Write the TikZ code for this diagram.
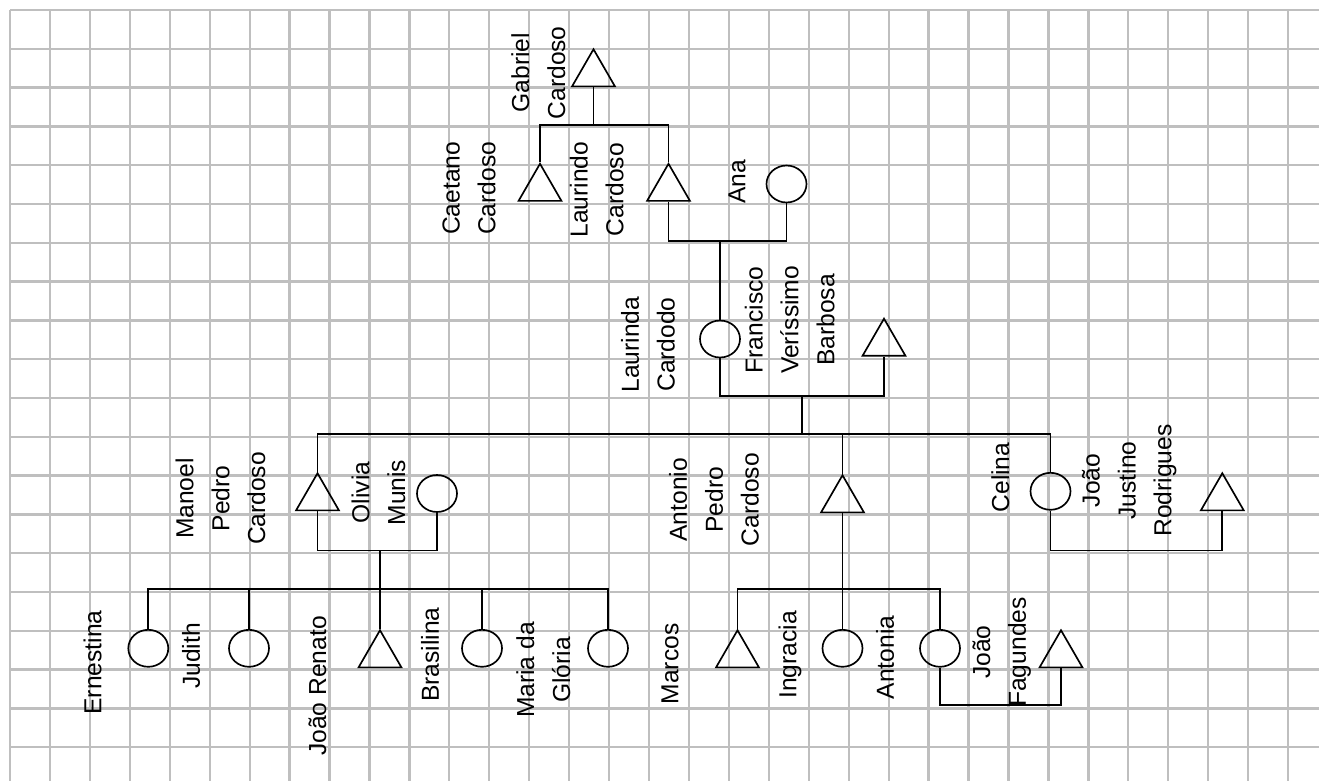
\documentclass[tikz,border=0pt]{standalone}
\usepackage{fontspec}
\setmainfont{Liberation Sans}
\usepackage{tikz}
\usetikzlibrary{positioning, shapes.geometric, calc}

\begin{document}
\begin{tikzpicture}[
    x=0.02cm, y=-0.02cm,
    gridline/.style={draw=gray!50, line width=1.3pt},
    kin/.style={draw=black, line width=0.95pt},
    male/.style={regular polygon, regular polygon sides=3, draw, line width=0.95pt, minimum size=0.99cm, inner sep=0pt},
    female/.style={ellipse, draw, line width=0.95pt, minimum width=0.8cm, minimum height=0.74cm, inner sep=0pt},
    namelbl/.style={rotate=90, align=center, inner sep=0pt, font=\fontsize{14}{20.4}\selectfont}
]
\useasboundingbox (0,0) rectangle (1319,781);
% --- Grid paper ---
\fill[white] (0,0) rectangle (1319,781);
\foreach \i in {0,...,32} \draw[gridline] (10+\i*39.94, 10) -- (10+\i*39.94, 781);
\foreach \j in {0,...,19} \draw[gridline] (10, 10+\j*38.8) -- (1319, 10+\j*38.8);
% Bar levels
\coordinate (sib1) at (0, 125);
\coordinate (mar1) at (0, 240.7);
\coordinate (mar2) at (0, 395.7);
\coordinate (sib2) at (0, 434);
\coordinate (mar3) at (0, 550.5);
\coordinate (mar4) at (0, 550.5);
\coordinate (sib3) at (0, 589.3);
\coordinate (sib4) at (0, 589.3);
\coordinate (mar5) at (0, 705);
\coordinate (lfdrop) at (802, 395.7);
% --- Generation 1 ---
\node[male] (gabriel) at (593.5, 74) {};
% --- Generation 2 ---
\node[male]   (caetano)  at (540, 188.5) {};
\node[male]   (laurindo) at (668.5, 188.5) {};
\node[female] (ana)      at (786.5, 184) {};
% --- Generation 3 ---
\node[female] (laurinda)  at (720, 339) {};
\node[male]   (francisco) at (884, 343.4) {};
% --- Generation 4 ---
\node[male]   (manoel)      at (317.5, 498) {};
\node[female] (olivia)      at (437, 493.5) {};
\node[male]   (antonio)     at (842.5, 500) {};
\node[female] (celina)      at (1050.5, 491.3) {};
\node[male]   (joaojustino) at (1222.3, 498) {};
% --- Generation 5 ---
\node[female] (ernestina)    at (148.3, 648.3) {};
\node[female] (judith)       at (249, 648.3) {};
\node[male]   (joaorenato)   at (380, 655) {};
\node[female] (brasilina)    at (482, 648.3) {};
\node[female] (gloria)       at (608, 648.3) {};
\node[male]   (marcos)       at (737.5, 655) {};
\node[female] (ingracia)     at (842.5, 648.3) {};
\node[female] (antonia)      at (940, 648.3) {};
\node[male]   (joaofagundes) at (1061, 655) {};
% --- Names ---
\node[namelbl] (gabriel-name)      at (538.3, 72.8)  {Gabriel\\Cardoso};
\node[namelbl] (caetano-name)      at (469, 188.3)   {Caetano\\Cardoso};
\node[namelbl] (laurindo-name)     at (596.7, 189.7) {Laurindo\\Cardoso};
\node[namelbl] (ana-name)          at (737, 182)     {Ana};
\node[namelbl] (laurinda-name)     at (648, 344.5)   {Laurinda\\Cardodo};
\node[namelbl] (francisco-name)    at (789.7, 320)   {Francisco\\Veríssimo\\Barbosa};
\node[namelbl] (manoel-name)       at (220.5, 498.5) {Manoel\\Pedro\\Cardoso};
\node[namelbl] (olivia-name)       at (378.5, 492.5) {Olivia\\Munis};
\node[namelbl] (antonio-name)      at (714, 499.7)   {Antonio\\Pedro\\Cardoso};
\node[namelbl] (celina-name)       at (1000.3, 477.5) {Celina};
\node[namelbl] (joaojustino-name)  at (1129.3, 480.5) {João\\Justino\\Rodrigues};
\node[namelbl] (ernestina-name)    at (92.5, 662.5)  {Ernestina};
\node[namelbl] (judith-name)       at (191, 656)     {Judith};
\node[namelbl] (joaorenato-name)   at (317.5, 686)   {João Renato};
\node[namelbl] (brasilina-name)    at (430, 654.5)   {Brasilina};
\node[namelbl] (gloria-name)       at (543.3, 670)   {Maria da\\Glória};
\node[namelbl] (marcos-name)       at (670, 664)     {Marcos};
\node[namelbl] (ingracia-name)     at (790, 655)     {Ingracia};
\node[namelbl] (antonia-name)      at (885, 657.5)   {Antonia};
\node[namelbl] (joaofagundes-name) at (1001.7, 652)  {João\\Fagundes};
% --- Gabriel's sons ---
\draw[kin] (gabriel.south) -- (gabriel.south |- sib1);
\draw[kin] (caetano.north) -- (caetano.north |- sib1) -- (laurindo.north |- sib1) -- (laurindo.north);
% --- Laurindo and Ana ---
\draw[kin] (laurindo.south) -- (laurindo.south |- mar1) -- (ana.south |- mar1) -- (ana.south);
\draw[kin] (laurinda.north) -- (laurinda.north |- mar1);
% --- Laurinda and Francisco ---
\draw[kin] (laurinda.south) -- (laurinda.south |- mar2) -- (francisco.south |- mar2) -- (francisco.south);
\draw[kin] (lfdrop) -- (lfdrop |- sib2);
\draw[kin] (manoel.north) -- (manoel.north |- sib2) -- (celina.north |- sib2) -- (celina.north);
\draw[kin] (antonio.north) -- (antonio.north |- sib2);
% --- Manoel and Olivia ---
\draw[kin] (manoel.south) -- (manoel.south |- mar3) -- (olivia.south |- mar3) -- (olivia.south);
\draw[kin] (joaorenato.north) -- (joaorenato.north |- mar3);
\draw[kin] (ernestina.north) -- (ernestina.north |- sib3) -- (gloria.north |- sib3) -- (gloria.north);
\draw[kin] (judith.north) -- (judith.north |- sib3);
\draw[kin] (brasilina.north) -- (brasilina.north |- sib3);
% --- Antonio's children ---
\draw[kin] (antonio.south) -- (ingracia.north);
\draw[kin] (marcos.north) -- (marcos.north |- sib4) -- (antonia.north |- sib4) -- (antonia.north);
% --- Antonia and Joao Fagundes ---
\draw[kin] (antonia.south) -- (antonia.south |- mar5) -- (joaofagundes.south |- mar5) -- (joaofagundes.south);
% --- Celina and Joao Justino ---
\draw[kin] (celina.south) -- (celina.south |- mar4) -- (joaojustino.south |- mar4) -- (joaojustino.south);
\end{tikzpicture}
\end{document}
